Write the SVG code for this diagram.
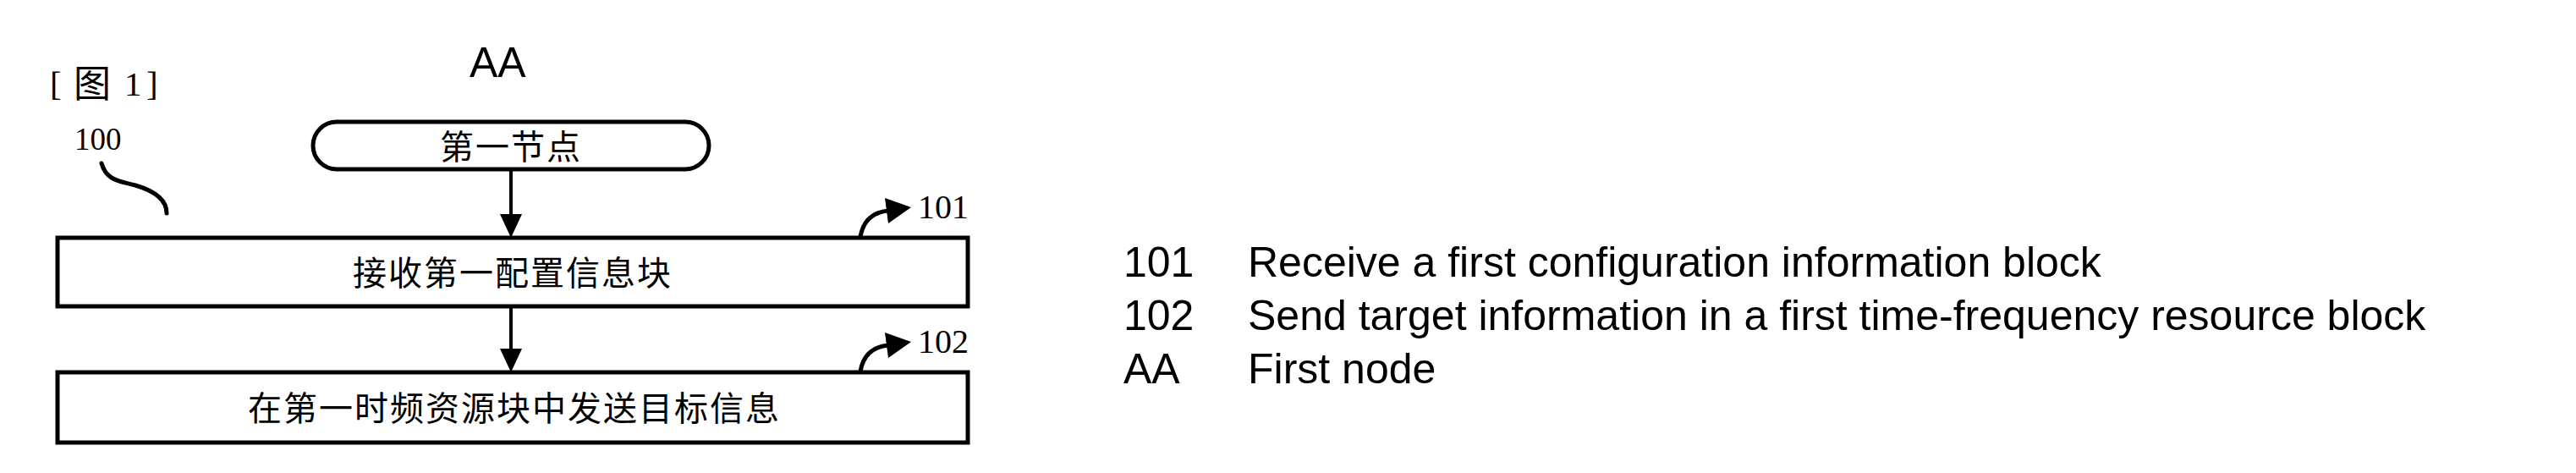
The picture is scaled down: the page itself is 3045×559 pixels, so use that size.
<svg xmlns="http://www.w3.org/2000/svg" width="3045" height="559" viewBox="0 0 3045 559">
<style>
.bg{fill:#fff}
.box{fill:#fff;stroke:#000;stroke-width:5}
.cjk{font-family:"Noto Sans CJK SC","Noto Sans CJK JP",sans-serif;font-size:40px;fill:#000;letter-spacing:2px}
.ser{font-family:"Liberation Serif","Noto Sans CJK SC",serif;fill:#000}
.sans{font-family:"Liberation Sans",Arial,sans-serif;font-size:50px;fill:#000}
.ln{stroke:#000;stroke-width:4;fill:none}
.cv{stroke:#000;stroke-width:5;fill:none;stroke-linecap:round}
.hd{fill:#000}
</style>
<rect class="bg" x="0" y="0" width="3045" height="559"/>
<g id="figure-label">
<text class="ser" y="113" font-size="41"><tspan x="59">[</tspan><tspan x="87" y="115" font-family="Noto Sans CJK SC, sans-serif" font-size="44">图</tspan><tspan x="147" y="113">1</tspan><tspan x="173">]</tspan></text>
</g>
<g id="ref-100">
<text class="ser" x="88" y="177" font-size="37">100</text>
<path class="cv" d="M120,193 C126,214 142,214 160,219 C184,226 197,236 197,252"/>
</g>
<g id="node-AA">
<text class="sans" x="555" y="91">AA</text>
<rect class="box" x="370" y="144" width="468" height="56" rx="28" ry="28"/>
<text class="cjk" x="604" y="188" text-anchor="middle">第一节点</text>
</g>
<g id="node-101">
<rect class="box" x="68" y="281" width="1076" height="81"/>
<text class="cjk" x="606" y="337" text-anchor="middle">接收第一配置信息块</text>
<path class="cv" d="M1017,280 C1020,262 1030,251 1050,249"/>
<polygon class="hd" points="1046,234 1050,264 1077,245"/>
<text class="ser" x="1085" y="258" font-size="40">101</text>
</g>
<g id="node-102">
<rect class="box" x="68" y="440" width="1076" height="83"/>
<text class="cjk" x="608" y="497" text-anchor="middle">在第一时频资源块中发送目标信息</text>
<path class="cv" d="M1017,439 C1020,421 1030,410 1050,408"/>
<polygon class="hd" points="1046,393 1050,423 1077,404"/>
<text class="ser" x="1085" y="417" font-size="40">102</text>
</g>
<g id="connectors">
<line class="ln" x1="604" y1="202" x2="604" y2="256"/>
<polygon class="hd" points="591,253 617,253 604,281"/>
<line class="ln" x1="604" y1="364" x2="604" y2="415"/>
<polygon class="hd" points="591,412 617,412 604,440"/>
</g>
<g id="legend">
<text class="sans" x="1328" y="327">101</text>
<text class="sans" x="1475" y="327">Receive a first configuration information block</text>
<text class="sans" x="1328" y="390">102</text>
<text class="sans" x="1475" y="390">Send target information in a first time-frequency resource block</text>
<text class="sans" x="1328" y="453">AA</text>
<text class="sans" x="1475" y="453">First node</text>
</g>
</svg>
